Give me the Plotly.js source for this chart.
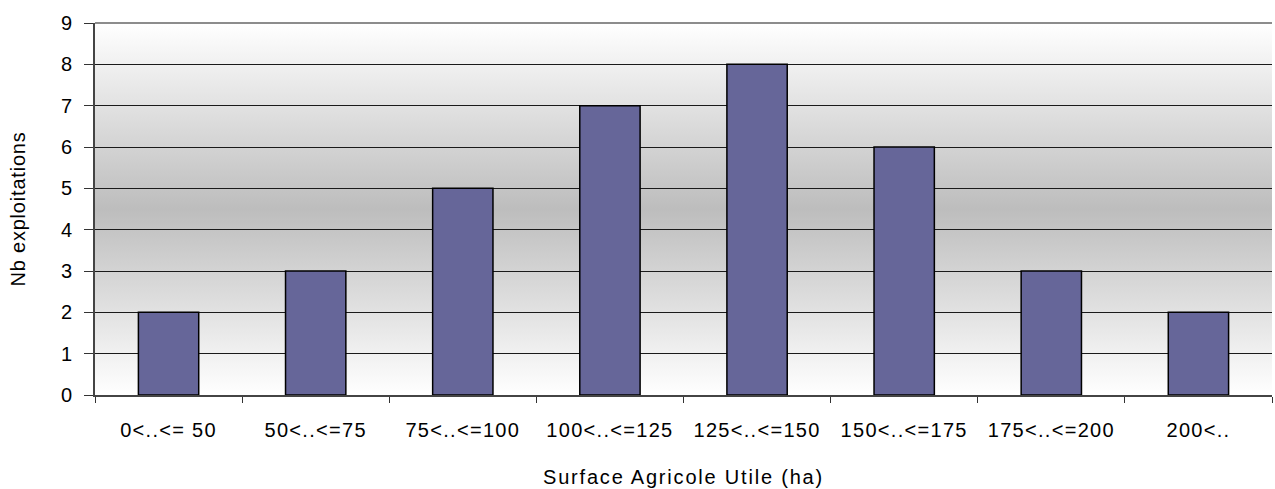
<!DOCTYPE html>
<html>
<head>
<meta charset="utf-8">
<script src="https://cdn.plot.ly/plotly-3.0.1.min.js"></script>
<style>
html,body{margin:0;padding:0;background:#fff;}
#chart{width:1275px;height:489px;}
#chart .xtick text{letter-spacing:1.3px;}
#chart .g-xtitle text{letter-spacing:1.8px;}
#chart .g-ytitle text{letter-spacing:0.8px;}
</style>
</head>
<body>
<div id="chart"></div>
<script>
const categories = ["0<..<= 50", "50<..<=75", "75<..<=100", "100<..<=125", "125<..<=150", "150<..<=175", "175<..<=200", "200<.."];
const counts = [2, 3, 5, 7, 8, 6, 3, 2];
const yTicks = [0, 1, 2, 3, 4, 5, 6, 7, 8, 9];

const grad = 'data:image/svg+xml;utf8,' + encodeURIComponent(
  '<svg xmlns="http://www.w3.org/2000/svg" width="10" height="100" preserveAspectRatio="none">' +
  '<defs><linearGradient id="g" x1="0" y1="0" x2="0" y2="1">' +
  '<stop offset="0" stop-color="#ffffff"/><stop offset="0.5" stop-color="#bdbdbd"/><stop offset="1" stop-color="#ffffff"/>' +
  '</linearGradient></defs><rect width="10" height="100" fill="url(#g)"/></svg>');

const trace = {
  type: 'bar',
  x: categories,
  y: counts,
  width: 0.41,
  marker: {color: '#666699', line: {color: '#000000', width: 1.5}},
  hoverinfo: 'x+y'
};

const layout = {
  width: 1275, height: 489,
  margin: {l: 95, r: 3, t: 23, b: 94},
  paper_bgcolor: '#ffffff',
  plot_bgcolor: 'rgba(0,0,0,0)',
  font: {family: 'Liberation Sans, Arial, sans-serif', size: 20, color: '#000'},
  showlegend: false,
  images: [{
    source: grad, xref: 'paper', yref: 'paper', x: 0, y: 1, sizex: 1, sizey: 1,
    sizing: 'stretch', layer: 'below', xanchor: 'left', yanchor: 'top'
  }],
  shapes: [{
    type: 'line', xref: 'paper', yref: 'paper', x0: 0, x1: 1, y0: 1, y1: 1,
    line: {color: '#8c8c8c', width: 2}
  }],
  xaxis: {
    type: 'category',
    tickson: 'boundaries',
    ticks: 'outside', ticklen: 6, tickcolor: '#333', tickwidth: 1,
    ticklabelstandoff: 16,
    showgrid: false,
    showline: true, linecolor: '#444', linewidth: 2,
    tickfont: {size: 20},
    title: {text: 'Surface Agricole Utile (ha)', font: {size: 20}, standoff: 30},
    fixedrange: true
  },
  yaxis: {
    range: [0, 9],
    tickvals: yTicks,
    ticktext: yTicks.map(String),
    ticks: 'outside', ticklen: 9, tickcolor: '#333', tickwidth: 1,
    ticklabelstandoff: 8,
    showgrid: true, gridcolor: '#1a1a1a', gridwidth: 1,
    showline: true, linecolor: '#444', linewidth: 2,
    zeroline: false,
    tickfont: {size: 20},
    title: {text: 'Nb exploitations', font: {size: 20}, standoff: 30},
    fixedrange: true
  }
};

Plotly.newPlot('chart', [trace], layout, {displayModeBar: false, staticPlot: true});
</script>
</body>
</html>
